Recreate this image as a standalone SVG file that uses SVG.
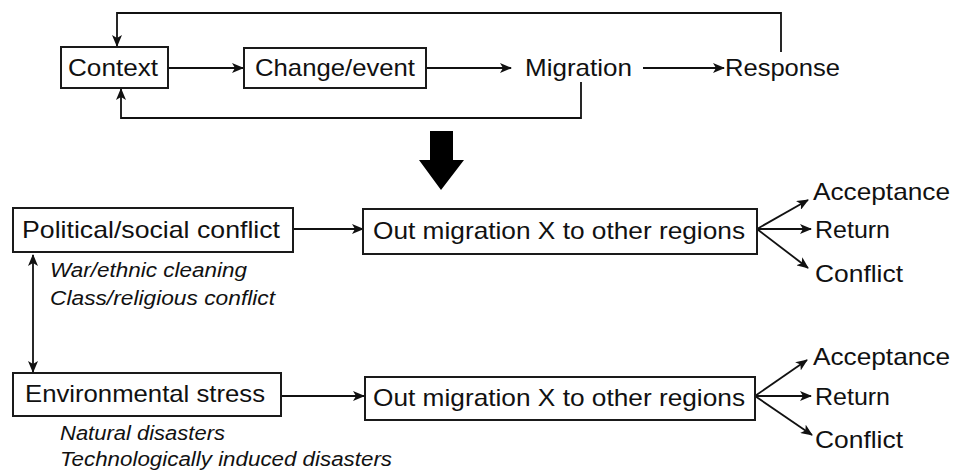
<svg xmlns="http://www.w3.org/2000/svg" width="954" height="472" viewBox="0 0 954 472">
<style>
.box{fill:#fff;stroke:#1a1a1a;stroke-width:2}
.t{font-family:"Liberation Sans",Arial,sans-serif;font-size:24px;fill:#111}
.it{font-family:"Liberation Sans",Arial,sans-serif;font-size:20px;font-style:italic;fill:#111}
.ln{fill:none;stroke:#111;stroke-width:1.8}
</style>
<defs>
<marker id="ah" viewBox="0 0 12 10" refX="11" refY="5" markerWidth="12" markerHeight="10" markerUnits="userSpaceOnUse" orient="auto-start-reverse">
<path d="M0,0 L12,5 L0,10 L3,5 z" fill="#111"/>
</marker>
</defs>
<g id="connectors">
<path class="ln" d="M781,52 V13 H117 V46" marker-end="url(#ah)"/>
<path class="ln" d="M581,82 V118 H121 V89" marker-end="url(#ah)"/>
<path class="ln" d="M168,68 H243" marker-end="url(#ah)"/>
<path class="ln" d="M426,68 H511" marker-end="url(#ah)"/>
<path class="ln" d="M643,68 H724" marker-end="url(#ah)"/>
<path d="M430,131 H453 V160 H464 L441,190 L419,160 H430 Z" fill="#000"/>
<path class="ln" d="M293,229 H363" marker-end="url(#ah)"/>
<path class="ln" d="M757,229 L808,200" marker-end="url(#ah)"/>
<path class="ln" d="M757,229 H811" marker-end="url(#ah)"/>
<path class="ln" d="M757,229 L808,268" marker-end="url(#ah)"/>
<path class="ln" d="M33,255 V372" marker-start="url(#ah)" marker-end="url(#ah)"/>
<path class="ln" d="M281,396 H364" marker-end="url(#ah)"/>
<path class="ln" d="M755,396 L807,360" marker-end="url(#ah)"/>
<path class="ln" d="M755,396 H811" marker-end="url(#ah)"/>
<path class="ln" d="M755,396 L812,435" marker-end="url(#ah)"/>
</g>
<g id="context"><rect class="box" x="61" y="47" width="107" height="41"/><text class="t" x="68" y="76" textLength="90" lengthAdjust="spacingAndGlyphs">Context</text></g>
<g id="change"><rect class="box" x="244" y="48" width="182" height="40"/><text class="t" x="255" y="76" textLength="160" lengthAdjust="spacingAndGlyphs">Change/event</text></g>
<g id="migration"><text class="t" x="525" y="76" textLength="107" lengthAdjust="spacingAndGlyphs">Migration</text></g>
<g id="response"><text class="t" x="725" y="76" textLength="115" lengthAdjust="spacingAndGlyphs">Response</text></g>
<g id="political"><rect class="box" x="13" y="208" width="280" height="44"/><text class="t" x="22" y="238" textLength="258" lengthAdjust="spacingAndGlyphs">Political/social conflict</text>
<text class="it" x="50" y="277" textLength="197" lengthAdjust="spacingAndGlyphs">War/ethnic cleaning</text><text class="it" x="50" y="305" textLength="225" lengthAdjust="spacingAndGlyphs">Class/religious conflict</text></g>
<g id="out1"><rect class="box" x="363" y="209" width="394" height="45"/><text class="t" x="373" y="239" textLength="372" lengthAdjust="spacingAndGlyphs">Out migration X to other regions</text></g>
<g id="acc1"><text class="t" x="813" y="200" textLength="137" lengthAdjust="spacingAndGlyphs">Acceptance</text></g>
<g id="ret1"><text class="t" x="815" y="238" textLength="75" lengthAdjust="spacingAndGlyphs">Return</text></g>
<g id="con1"><text class="t" x="815" y="282" textLength="88" lengthAdjust="spacingAndGlyphs">Conflict</text></g>
<g id="env"><rect class="box" x="13" y="373" width="268" height="43"/><text class="t" x="25" y="402" textLength="240" lengthAdjust="spacingAndGlyphs">Environmental stress</text>
<text class="it" x="60" y="440" textLength="165" lengthAdjust="spacingAndGlyphs">Natural disasters</text><text class="it" x="60" y="466" textLength="332" lengthAdjust="spacingAndGlyphs">Technologically induced disasters</text></g>
<g id="out2"><rect class="box" x="365" y="377" width="390" height="43"/><text class="t" x="373" y="406" textLength="372" lengthAdjust="spacingAndGlyphs">Out migration X to other regions</text></g>
<g id="acc2"><text class="t" x="813" y="365" textLength="137" lengthAdjust="spacingAndGlyphs">Acceptance</text></g>
<g id="ret2"><text class="t" x="815" y="405" textLength="75" lengthAdjust="spacingAndGlyphs">Return</text></g>
<g id="con2"><text class="t" x="815" y="448" textLength="88" lengthAdjust="spacingAndGlyphs">Conflict</text></g>
</svg>
